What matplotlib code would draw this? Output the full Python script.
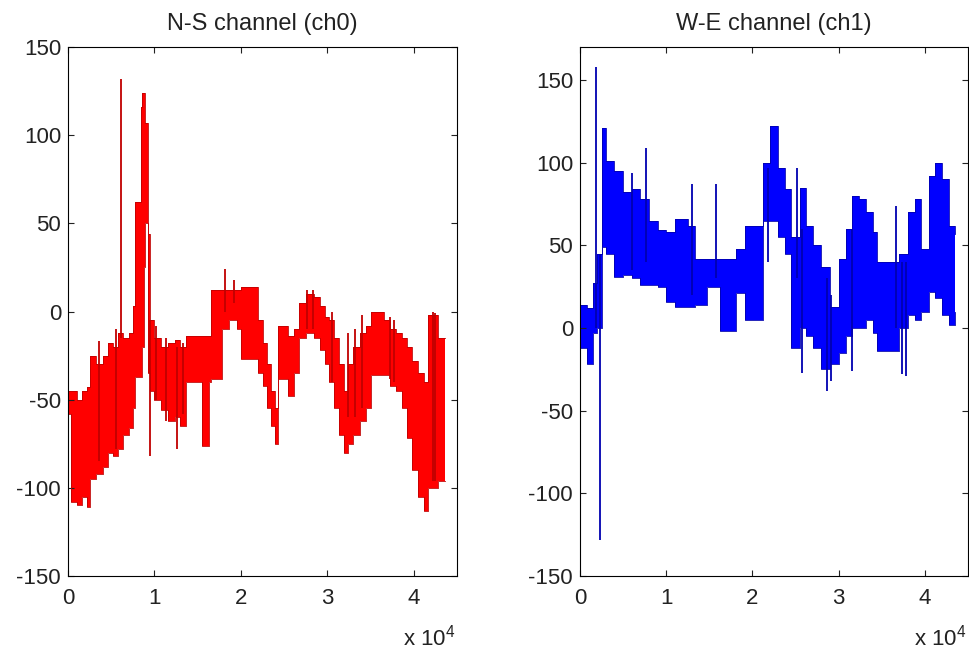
import matplotlib
matplotlib.use("Agg")
import matplotlib.pyplot as plt

plt.rcParams['font.family'] = ['Liberation Sans', 'DejaVu Sans']
plt.rcParams['mathtext.fontset'] = 'custom'
plt.rcParams['mathtext.rm'] = 'Liberation Sans'
plt.rcParams['axes.unicode_minus'] = False

# sample index in units of 10^4, envelope (upper / lower) of each channel
ns_x = [0.00, 0.03, 0.10, 0.16, 0.22, 0.26, 0.32, 0.40, 0.46, 0.52,
        0.58, 0.64, 0.70, 0.75, 0.77, 0.78, 0.84, 0.857, 0.875, 0.89,
        0.92, 0.945, 1.00, 1.08, 1.16, 1.24, 1.30, 1.36, 1.55, 1.63,
        1.66, 1.78, 1.86, 1.95, 2.00, 2.20, 2.25, 2.30, 2.35, 2.40,
        2.43, 2.55, 2.62, 2.67, 2.75, 2.85, 2.92, 2.97, 3.02, 3.08,
        3.14, 3.19, 3.24, 3.30, 3.38, 3.45, 3.50, 3.65, 3.72, 3.80,
        3.86, 3.92, 3.98, 4.05, 4.12, 4.17, 4.28, 4.36]
ns_hi = [-45, -45, -50, -45, -43, -25, -30, -25, -18, -20,
         -12, -15, -12, 3, 38, 62, 116, 124, 124, 107,
         44, -5, -15, -20, -18, -16, -20, -14, -14, -14,
         12, 12, 12, 12, 14, -5, -18, -30, -45, -55,
         -8, -14, -10, 5, 10, 8, 3, -3, -5, -15,
         -30, -45, -30, -20, -12, -8, 0, -5, -10, -12,
         -15, -20, -28, -35, -40, -2, -15, -15]
ns_lo = [-58, -108, -110, -105, -111, -95, -92, -88, -80, -82,
         -78, -70, -66, -55, -45, -37, -37, -20, 25, 50,
         -35, -45, -50, -56, -62, -60, -65, -40, -76, -40,
         -38, -10, -5, -10, -27, -35, -42, -55, -65, -75,
         -38, -48, -35, -15, -12, -15, -22, -30, -40, -55,
         -70, -80, -75, -70, -62, -55, -36, -36, -42, -45,
         -55, -72, -90, -105, -113, -100, -96, -96]
# isolated spikes: position, top, bottom
ns_spk_x = [0.61, 0.95, 1.26, 1.82, 1.92, 2.77, 2.83, 3.05, 3.24, 3.32,
            3.40, 3.73, 3.77, 4.22, 4.25, 0.36, 0.55, 1.02, 1.13, 1.33]
ns_spk_top = [132, -5, -20, 24, 18, 12, 12, 0, -12, -10,
              -2, -3, -5, 0, -1, -17, -10, -8, -15, -18]
ns_spk_bot = [-15, -82, -78, 0, 5, -10, -10, -40, -60, -60,
              -55, -38, -40, -96, -96, -85, -78, -50, -62, -58]

we_x = [0.00, 0.08, 0.15, 0.20, 0.25, 0.30, 0.40, 0.50, 0.60, 0.70,
        0.80, 0.90, 1.00, 1.10, 1.25, 1.33, 1.47, 1.62, 1.81, 1.91,
        2.12, 2.20, 2.30, 2.38, 2.45, 2.55, 2.62, 2.70, 2.80, 2.90,
        3.00, 3.08, 3.16, 3.24, 3.32, 3.40, 3.45, 3.70, 3.80, 3.88,
        3.95, 4.05, 4.12, 4.20, 4.28, 4.35]
we_hi = [14, 12, 27, 45, 121, 101, 95, 82, 84, 78,
         65, 59, 58, 66, 62, 42, 42, 42, 48, 62,
         100, 122, 97, 84, 55, 85, 62, 50, 37, 13,
         42, 60, 80, 78, 70, 58, 40, 45, 70, 78,
         48, 92, 100, 90, 62, 57]
we_lo = [-12, -22, -3, 0, 49, 45, 31, 32, 30, 26,
         26, 25, 16, 13, 13, 14, 25, -2, 21, 5,
         65, 65, 55, 45, -12, 0, -5, -12, -25, -22,
         -15, -5, 0, 0, 5, -3, -14, 0, 8, 5,
         10, 22, 18, 8, 2, 10]
we_spk_x = [0.19, 0.23, 0.60, 0.76, 1.30, 1.58, 2.18, 2.52, 2.58, 2.87,
            2.91, 3.16, 3.67, 3.73, 3.78]
we_spk_top = [158, 45, 94, 109, 87, 87, 97, 97, 60, 30,
              20, 60, 74, 40, 40]
we_spk_bot = [0, -128, 35, 40, 20, 30, 40, 30, -27, -38,
              -32, -26, 0, -28, -29]

W, H = 969, 655
fig = plt.figure(figsize=(W / 100, H / 100), dpi=100)
ax1 = fig.add_axes([68 / W, (H - 576) / H, 389 / W, 529 / H])
ax2 = fig.add_axes([580 / W, (H - 576) / H, 388 / W, 529 / H])

panels = [
    (ax1, ns_x, ns_hi, ns_lo, ns_spk_x, ns_spk_top, ns_spk_bot,
     '#ff0000', '#c00000', 'N-S channel (ch0)', (-150, 150)),
    (ax2, we_x, we_hi, we_lo, we_spk_x, we_spk_top, we_spk_bot,
     '#0000ff', '#0000b0', 'W-E channel (ch1)', (-150, 170)),
]

for ax, x, hi, lo, sx, st, sb, col, edge, title, ylim in panels:
    ax.fill_between(x, lo, hi, step='post', color=col, lw=0)
    ax.step(x, hi, where='post', color=edge, lw=0.6)
    ax.step(x, lo, where='post', color=edge, lw=0.6)
    ax.vlines(sx, sb, st, color=edge, lw=1.3)
    ax.set_xlim(0, 4.5)
    ax.set_ylim(*ylim)
    ax.set_xticks([0, 1, 2, 3, 4])
    ax.set_xticklabels(['0', '1', '2', '3', '4'])
    ax.set_yticks([-150, -100, -50, 0, 50, 100, 150])
    ax.tick_params(direction='in', length=4, width=0.8, top=True, right=True,
                   labelsize=16, colors='#222222')
    ax.tick_params(axis='x', pad=9)
    ax.tick_params(axis='y', pad=5)
    for s in ax.spines.values():
        s.set_linewidth(0.8)
    ax.set_title(title, fontsize=17, color='#222222', pad=12)
    ax.text(0.995, -0.132, r'x 10$^4$', transform=ax.transAxes, ha='right',
            va='baseline', fontsize=16, color='#222222')

fig.savefig('out.png', dpi=100)
